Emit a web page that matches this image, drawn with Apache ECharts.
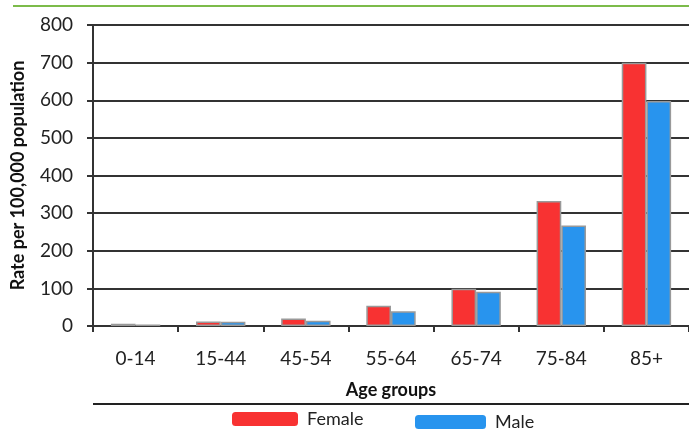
<!DOCTYPE html>
<html>
<head>
<meta charset="utf-8">
<script src="https://cdn.jsdelivr.net/npm/echarts@6/dist/echarts.min.js"></script>
<style>
  html, body { margin: 0; padding: 0; background: #fff; }
  #chart { width: 689px; height: 430px; }
</style>
</head>
<body>
<div id="chart"></div>
<script>
const ageGroups = ['0-14', '15-44', '45-54', '55-64', '65-74', '75-84', '85+'];
const femaleRates = [6, 12, 20, 54, 99, 332, 700];
const maleRates = [4, 11, 14, 39, 91, 267, 598];
const yTicks = [0, 100, 200, 300, 400, 500, 600, 700, 800];

const chart = echarts.init(document.getElementById('chart'));
const font = 'Lato, "Open Sans", sans-serif';

const option = {
  animation: false,
  textStyle: { fontFamily: font },
  grid: { left: 93, right: -7, top: 25, bottom: 104 },
  legend: [
    {
      data: ['Female'],
      left: 232, top: 410, padding: 0,
      itemWidth: 66, itemHeight: 14,
      textStyle: { fontSize: 18, color: '#222', padding: [0, 0, 0, 4] },
      itemStyle: { borderWidth: 0 }
    },
    {
      data: ['Male'],
      left: 415, top: 413, padding: 0,
      itemWidth: 71, itemHeight: 14,
      textStyle: { fontSize: 18, color: '#222', padding: [0, 0, 0, 4] },
      itemStyle: { borderWidth: 0 }
    }
  ],
  xAxis: {
    type: 'category',
    data: ageGroups,
    name: 'Age groups',
    nameLocation: 'middle',
    nameGap: 55,
    nameTextStyle: { fontSize: 18, fontWeight: 'bold', color: '#111' },
    axisLine: { lineStyle: { color: '#333', width: 2 } },
    axisTick: { show: true, length: 6, lineStyle: { color: '#333', width: 2 } },
    axisLabel: { fontSize: 19, color: '#222', margin: 23 }
  },
  yAxis: {
    type: 'value',
    min: 0, max: 800, interval: 100,
    name: 'Rate per 100,000 population',
    nameLocation: 'middle',
    nameGap: 66,
    nameTextStyle: { fontSize: 18, fontWeight: 'bold', color: '#111' },
    axisLine: { show: true, lineStyle: { color: '#333', width: 2 } },
    axisTick: { show: true, length: 6, lineStyle: { color: '#333', width: 2 } },
    axisLabel: {
      fontSize: 19, color: '#222', margin: 20,
      formatter: (v) => (yTicks.includes(v) ? String(v) : '')
    },
    splitLine: { lineStyle: { color: '#333', width: 2 } }
  },
  series: [
    {
      name: 'Female',
      type: 'bar',
      data: femaleRates,
      barGap: '0%',
      barCategoryGap: '42%',
      itemStyle: { color: '#f83232', borderColor: '#999', borderWidth: 1.5 }
    },
    {
      name: 'Male',
      type: 'bar',
      data: maleRates,
      itemStyle: { color: '#2894ee', borderColor: '#999', borderWidth: 1.5 }
    }
  ],
  graphic: [
    {
      type: 'line',
      shape: { x1: 13, y1: 6, x2: 689, y2: 6 },
      style: { stroke: '#7cbb4a', lineWidth: 2 }
    },
    {
      type: 'line',
      shape: { x1: 93, y1: 404, x2: 689, y2: 404 },
      style: { stroke: '#222', lineWidth: 2 }
    }
  ]
};

chart.setOption(option);
</script>
</body>
</html>
